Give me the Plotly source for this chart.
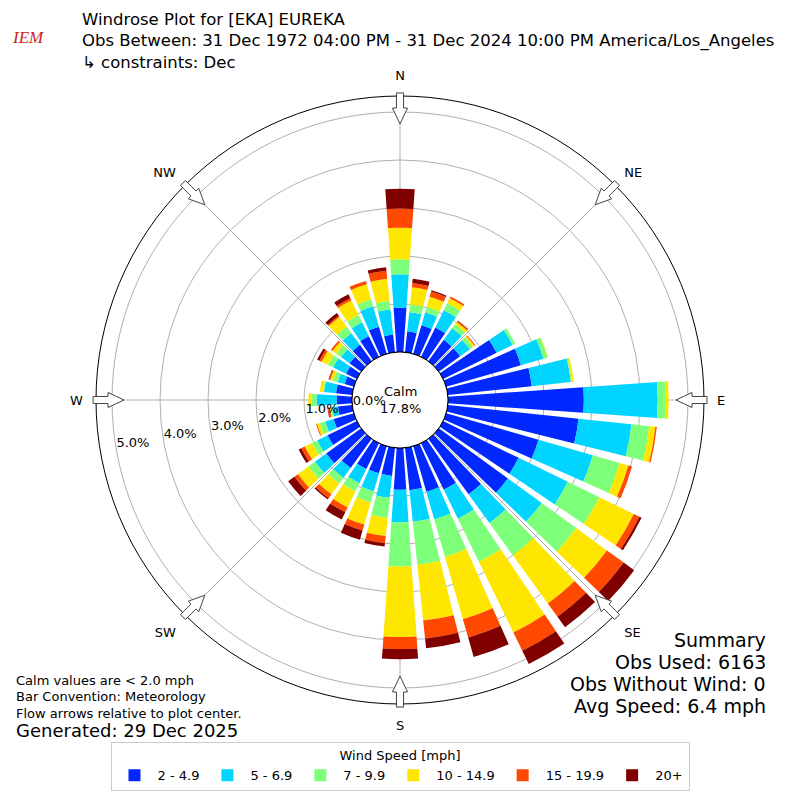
import numpy as np
import plotly.graph_objects as go

# wind directions (deg, bar centres) and speed bins
directions = list(range(0, 360, 10))
speed_bins = ["2 - 4.9", "5 - 6.9", "7 - 9.9", "10 - 14.9", "15 - 19.9", "20+"]
bin_colors = ["#0028ff", "#00d4ff", "#7dff7a", "#ffe600", "#ff4800", "#800000"]

# frequency [%] per direction for each speed bin
pct_2_5 = [0.92, 0.44, 0.62, 0.68, 0.55, 0.55, 1.24, 1.62, 1.76, 2.83, 2.74, 2.00,
           1.75, 1.78, 1.43, 1.08, 0.99, 0.89, 0.87, 0.59, 0.59, 0.60, 0.75, 0.90,
           0.68, 0.44, 0.30, 0.32, 0.34, 0.20, 0.25, 0.30, 0.42, 0.48, 0.59, 0.37]
pct_5_7 = [0.70, 0.40, 0.28, 0.40, 0.30, 0.25, 0.37, 0.49, 0.82, 1.54, 1.11, 1.18,
           1.14, 0.87, 0.74, 0.67, 0.60, 0.66, 0.68, 0.46, 0.39, 0.33, 0.25, 0.29,
           0.24, 0.18, 0.12, 0.42, 0.25, 0.15, 0.30, 0.22, 0.30, 0.32, 0.44, 0.53]
pct_7_10 = [0.31, 0.16, 0.12, 0.16, 0.10, 0.08, 0.06, 0.09, 0.02, 0.17, 0.37, 0.58,
            0.73, 0.89, 0.83, 1.00, 0.81, 0.90, 0.92, 0.42, 0.24, 0.19, 0.15, 0.17,
            0.12, 0.12, 0.03, 0.10, 0.02, 0.10, 0.12, 0.12, 0.17, 0.17, 0.15, 0.18]
pct_10_15 = [0.66, 0.36, 0.22, 0.12, 0.06, 0.04, 0.00, 0.01, 0.04, 0.06, 0.13, 0.19,
             0.80, 0.79, 1.24, 1.64, 1.35, 1.17, 1.47, 0.38, 0.48, 0.37, 0.28, 0.27,
             0.17, 0.06, 0.02, 0.07, 0.07, 0.06, 0.15, 0.10, 0.25, 0.34, 0.33, 0.46]
pct_15_20 = [0.40, 0.09, 0.11, 0.04, 0.03, 0.02, 0.00, 0.00, 0.00, 0.00, 0.03, 0.08,
             0.13, 0.43, 0.34, 0.42, 0.40, 0.38, 0.25, 0.15, 0.13, 0.11, 0.10, 0.09,
             0.08, 0.02, 0.04, 0.00, 0.00, 0.03, 0.05, 0.04, 0.03, 0.05, 0.07, 0.17]
pct_20 = [0.41, 0.09, 0.03, 0.00, 0.01, 0.00, 0.00, 0.00, 0.00, 0.00, 0.00, 0.00,
          0.05, 0.27, 0.27, 0.31, 0.42, 0.20, 0.21, 0.07, 0.20, 0.17, 0.03, 0.16,
          0.06, 0.00, 0.01, 0.00, 0.00, 0.01, 0.05, 0.00, 0.07, 0.09, 0.00, 0.07]
series = [pct_2_5, pct_5_7, pct_7_10, pct_10_15, pct_15_20, pct_20]

ring_ticks = [0, 1, 2, 3, 4, 5]
compass_deg = [0, 45, 90, 135, 180, 225, 270, 315]
compass_txt = ["N", "NE", "E", "SE", "S", "SW", "W", "NW"]

calm_pct = 17.8
font = "DejaVu Sans"

fig = go.Figure()

for name, vals, col in zip(speed_bins, series, bin_colors):
    fig.add_trace(go.Barpolar(r=vals, theta=directions, width=8, name=name,
                              marker=dict(color=col, line=dict(width=0))))

# black circle round the calm hole
fig.add_trace(go.Scatterpolar(r=[0] * 361, theta=list(range(361)), mode="lines",
                              line=dict(color="black", width=1),
                              showlegend=False, hoverinfo="skip"))

# radial labels, matplotlib style (text to the upper right of the tick)
fig.add_trace(go.Scatterpolar(r=ring_ticks, theta=[260] * len(ring_ticks), mode="text",
                              text=["%.1f%%" % t for t in ring_ticks],
                              textposition="top right", cliponaxis=False,
                              textfont=dict(size=13, color="black", family=font),
                              showlegend=False, hoverinfo="skip"))

fig.update_layout(
    width=800, height=800,
    margin=dict(l=0, r=0, t=0, b=0),
    paper_bgcolor="white",
    font=dict(family=font, size=13, color="black"),
    polar=dict(
        domain=dict(x=[0.12, 0.88], y=[0.12, 0.88]),
        hole=48 / 304,
        bgcolor="white",
        barmode="stack",
        radialaxis=dict(range=[0, 256 / 48], tickvals=ring_ticks[1:], showticklabels=False,
                        showline=False, ticks="", gridcolor="#b0b0b0", gridwidth=1,
                        layer="above traces"),
        angularaxis=dict(rotation=90, direction="clockwise", tickvals=compass_deg,
                         ticktext=compass_txt, showline=True, linecolor="black",
                         linewidth=1, gridcolor="#b0b0b0", gridwidth=1,
                         ticks="outside", ticklen=10, tickcolor="rgba(0,0,0,0)",
                         tickfont=dict(size=13), layer="above traces"),
    ),
    legend=dict(orientation="h", x=0.5, xanchor="center", y=0.072, yanchor="top",
                bordercolor="#cccccc", borderwidth=1, font=dict(size=13), itemwidth=36,
                title=dict(text="Wind Speed [mph]", side="top center", font=dict(size=13))),
)

# flow arrows at the compass points, pointing to the centre
cx, cy = 400, 400
arrow_uv = [(0, -3.5), (15, -3.5), (15, -7.5), (31, 0), (15, 7.5), (15, 3.5), (0, 3.5)]
for a in compass_deg:
    t = np.radians(a)
    ox, oy = np.sin(t), -np.cos(t)
    px_, py_ = np.cos(t), np.sin(t)
    pts = []
    for u, v in arrow_uv:
        x = cx + ox * (307 - u) + px_ * v
        y = cy + oy * (307 - u) + py_ * v
        pts.append("%.4f,%.4f" % (x / 800, 1 - y / 800))
    fig.add_shape(type="path", xref="paper", yref="paper",
                  path="M" + "L".join(pts) + "Z",
                  fillcolor="white", line=dict(color="#444444", width=1))

title_txt = ("Windrose Plot for [EKA] EUREKA<br>"
             "Obs Between: 31 Dec 1972 04:00 PM - 31 Dec 2024 10:00 PM America/Los_Angeles<br>"
             "\u21b3 constraints: Dec")
fig.add_annotation(text=title_txt, xref="paper", yref="paper", x=0.1, y=1 - 8 / 800,
                   xanchor="left", yanchor="top", align="left", showarrow=False,
                   font=dict(size=16.5))

fig.add_annotation(text="<i>IEM</i>", xref="paper", yref="paper", x=0.035, y=1 - 38 / 800,
                   xanchor="center", yanchor="middle", showarrow=False,
                   font=dict(size=17, color="#cc2222", family="Liberation Serif"))

fig.add_annotation(text="Calm<br>%.1f%%" % calm_pct, xref="paper", yref="paper",
                   x=0.5, y=0.5, xanchor="center", yanchor="middle", showarrow=False,
                   font=dict(size=13))

notes = ["Calm values are < 2.0 mph", "Bar Convention: Meteorology",
         "Flow arrows relative to plot center."]
for i, line in enumerate(notes):
    fig.add_annotation(text=line, xref="paper", yref="paper", x=0.018, y=1 - (680 + 16.5 * i) / 800,
                       xanchor="left", yanchor="middle", showarrow=False, font=dict(size=13))
fig.add_annotation(text="Generated: 29 Dec 2025", xref="paper", yref="paper", x=0.018,
                   y=1 - 730 / 800, xanchor="left", yanchor="middle", showarrow=False,
                   font=dict(size=18))

summary = ["Summary", "Obs Used: 6163", "Obs Without Wind: 0", "Avg Speed: 6.4 mph"]
for i, line in enumerate(summary):
    fig.add_annotation(text=line, xref="paper", yref="paper", x=0.96, y=1 - (640 + 22 * i) / 800,
                       xanchor="right", yanchor="middle", showarrow=False, font=dict(size=19))

# drop the page's default body margin so the 800x800 figure sits at the window origin
fig.write_html("out.html", config={"displayModeBar": False},
               post_script="document.body.style.margin = '0px';")
